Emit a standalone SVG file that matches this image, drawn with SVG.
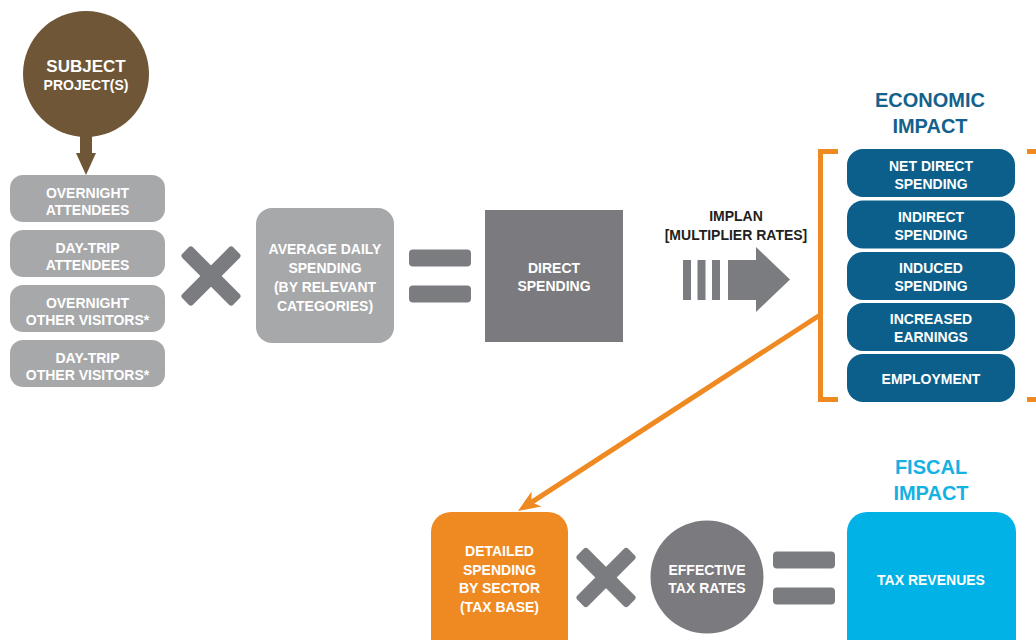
<svg xmlns="http://www.w3.org/2000/svg" xmlns:xlink="http://www.w3.org/1999/xlink" width="1036" height="640" viewBox="0 0 1036 640">
  <style>
    .lbl { font-family: "Liberation Sans", Arial, sans-serif; font-weight: bold; font-size: 14px; fill: #ffffff; text-anchor: middle; }
    .dark { fill: #231f20; }
    .title { font-family: "Liberation Sans", Arial, sans-serif; font-weight: bold; font-size: 20px; text-anchor: middle; }
    .econ { fill: #14618d; }
    .fisc { fill: #14b1e3; }
    .light { fill: #a7a8aa; }
    .mid { fill: #7b7a7e; }
    .sym { fill: #7b7c7f; }
    .blue { fill: #0b5f8a; }
    .bracket { fill: none; stroke: #ef8a23; stroke-width: 5; }
  </style>
  <defs>
    <!-- multiplication sign: two crossed bars -->
    <g id="times">
      <rect x="-36" y="-7.5" width="72" height="15" rx="3" transform="rotate(45)"/>
      <rect x="-36" y="-7.5" width="72" height="15" rx="3" transform="rotate(-45)"/>
    </g>
    <!-- equals sign -->
    <g id="equals">
      <rect x="-31" y="-26.5" width="62" height="17" rx="4"/>
      <rect x="-31" y="9.5" width="62" height="17" rx="4"/>
    </g>
    <marker id="arrowOrange" markerUnits="userSpaceOnUse" markerWidth="24" markerHeight="20" refX="6" refY="10" orient="auto">
      <path d="M0,1 L22,10 L0,19 L6,10 Z" fill="#ef8a23"/>
    </marker>
  </defs>

  <rect width="1036" height="640" fill="#ffffff"/>

  <!-- connectors -->
  <g id="connectors">
    <path d="M80,136 H92 V153 H96 L86,175 L76,153 H80 Z" fill="#6e5636"/>
    <line x1="820" y1="315" x2="531.4" y2="502.3" stroke="#ef8a23" stroke-width="5" marker-end="url(#arrowOrange)"/>
  </g>

  <!-- source -->
  <g id="subject">
    <circle cx="86" cy="74" r="63" fill="#6e5636"/>
    <text class="lbl" x="86" y="72" style="font-size:17px">SUBJECT</text>
    <text class="lbl" x="86" y="90">PROJECT(S)</text>
  </g>

  <!-- visitor segments -->
  <g id="overnight-attendees">
    <rect class="light" x="10" y="175" width="155" height="47" rx="13"/>
    <text class="lbl" x="87.5" y="197.5">OVERNIGHT</text>
    <text class="lbl" x="87.5" y="214.5">ATTENDEES</text>
  </g>
  <g id="daytrip-attendees">
    <rect class="light" x="10" y="230" width="155" height="47" rx="13"/>
    <text class="lbl" x="87.5" y="252.5">DAY-TRIP</text>
    <text class="lbl" x="87.5" y="269.5">ATTENDEES</text>
  </g>
  <g id="overnight-visitors">
    <rect class="light" x="10" y="285" width="155" height="47" rx="13"/>
    <text class="lbl" x="87.5" y="307.5">OVERNIGHT</text>
    <text class="lbl" x="87.5" y="324.5">OTHER VISITORS*</text>
  </g>
  <g id="daytrip-visitors">
    <rect class="light" x="10" y="340" width="155" height="47" rx="13"/>
    <text class="lbl" x="87.5" y="362.5">DAY-TRIP</text>
    <text class="lbl" x="87.5" y="379.5">OTHER VISITORS*</text>
  </g>

  <use xlink:href="#times" class="sym" transform="translate(211,276)"/>

  <g id="average-daily-spending">
    <rect class="light" x="256" y="208" width="138" height="135" rx="16"/>
    <text class="lbl" x="325" y="254">AVERAGE DAILY</text>
    <text class="lbl" x="325" y="273">SPENDING</text>
    <text class="lbl" x="325" y="292">(BY RELEVANT</text>
    <text class="lbl" x="325" y="311">CATEGORIES)</text>
  </g>

  <use xlink:href="#equals" class="sym" transform="translate(440,276)"/>

  <g id="direct-spending">
    <rect class="mid" x="485" y="210" width="138" height="132"/>
    <text class="lbl" x="554" y="273">DIRECT</text>
    <text class="lbl" x="554" y="291">SPENDING</text>
  </g>

  <!-- IMPLAN step -->
  <g id="implan">
    <text class="lbl dark" x="736" y="221">IMPLAN</text>
    <text class="lbl dark" x="736" y="240">[MULTIPLIER RATES]</text>
    <g class="sym">
      <rect x="683" y="260" width="8" height="40"/>
      <rect x="697.5" y="260" width="8" height="40"/>
      <rect x="712" y="260" width="8" height="40"/>
      <path d="M728,260 H756 V247 L790,279.5 L756,312 V300 H728 Z"/>
    </g>
  </g>

  <!-- economic impact -->
  <g id="economic-impact">
    <text class="title econ" x="930" y="107">ECONOMIC</text>
    <text class="title econ" x="930" y="133">IMPACT</text>
    <path class="bracket" d="M838,151.5 H820.5 V399.5 H838"/>
    <path class="bracket" d="M1027,151.5 H1036 M1027,399.5 H1036"/>
  </g>
  <g id="net-direct-spending">
    <rect class="blue" x="847" y="149" width="168" height="48" rx="16"/>
    <text class="lbl" x="931" y="171">NET DIRECT</text>
    <text class="lbl" x="931" y="189">SPENDING</text>
  </g>
  <g id="indirect-spending">
    <rect class="blue" x="847" y="200.5" width="168" height="48" rx="16"/>
    <text class="lbl" x="931" y="222">INDIRECT</text>
    <text class="lbl" x="931" y="240">SPENDING</text>
  </g>
  <g id="induced-spending">
    <rect class="blue" x="847" y="252" width="168" height="48" rx="16"/>
    <text class="lbl" x="931" y="273">INDUCED</text>
    <text class="lbl" x="931" y="291">SPENDING</text>
  </g>
  <g id="increased-earnings">
    <rect class="blue" x="847" y="303" width="168" height="48" rx="16"/>
    <text class="lbl" x="931" y="324">INCREASED</text>
    <text class="lbl" x="931" y="342">EARNINGS</text>
  </g>
  <g id="employment">
    <rect class="blue" x="847" y="354" width="168" height="48" rx="16"/>
    <text class="lbl" x="931" y="384">EMPLOYMENT</text>
  </g>

  <!-- fiscal impact row -->
  <g id="detailed-spending">
    <rect x="431" y="512" width="137" height="150" rx="20" fill="#ef8a23"/>
    <text class="lbl" x="499.5" y="556">DETAILED</text>
    <text class="lbl" x="499.5" y="574.5">SPENDING</text>
    <text class="lbl" x="499.5" y="593">BY SECTOR</text>
    <text class="lbl" x="499.5" y="612">(TAX BASE)</text>
  </g>

  <use xlink:href="#times" class="sym" transform="translate(606,577.5)"/>

  <g id="effective-tax-rates">
    <circle class="mid" cx="707" cy="577" r="56.5"/>
    <text class="lbl" x="707" y="575">EFFECTIVE</text>
    <text class="lbl" x="707" y="593">TAX RATES</text>
  </g>

  <use xlink:href="#equals" class="sym" transform="translate(804,578)"/>

  <g id="fiscal-impact">
    <text class="title fisc" x="931" y="474">FISCAL</text>
    <text class="title fisc" x="931" y="500">IMPACT</text>
  </g>
  <g id="tax-revenues">
    <rect x="847" y="512" width="169" height="150" rx="20" fill="#00b2e5"/>
    <text class="lbl" x="931" y="585">TAX REVENUES</text>
  </g>
</svg>
